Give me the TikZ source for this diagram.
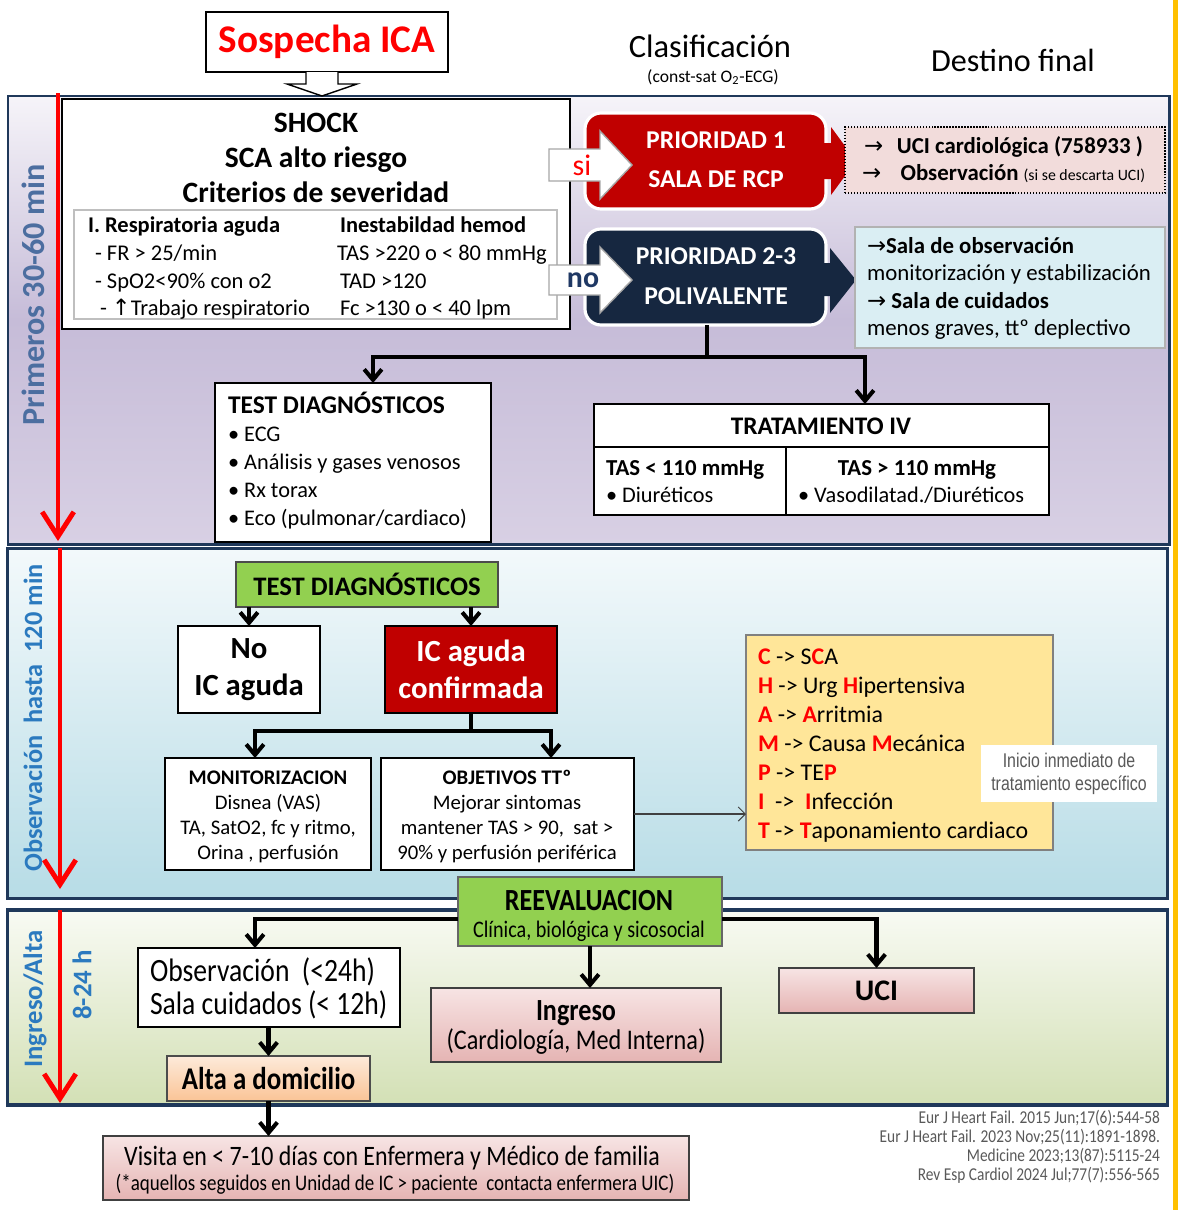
\documentclass[tikz,border=0pt]{standalone}
\usepackage{fontspec}
\setmainfont{Carlito}
\newfontfamily\condfont[FakeStretch=0.85]{Carlito}
\newfontfamily\narrowfont[FakeStretch=0.8]{Liberation Sans}
\newfontfamily\symfont{DejaVu Sans}
\usepackage{tikz}
\usetikzlibrary{arrows.meta, positioning, calc}
\definecolor{PanelBorder}{RGB}{31, 56, 90}
\definecolor{RcpRed}{RGB}{192, 0, 0}
\definecolor{PoliNavy}{RGB}{22, 39, 64}
\definecolor{NoNavy}{RGB}{31, 56, 100}
\definecolor{TimeRed}{RGB}{255, 0, 0}
\definecolor{LabelSlate}{RGB}{76, 110, 160}
\definecolor{LabelBlue}{RGB}{43, 122, 191}
\definecolor{TestGreen}{RGB}{146, 208, 80}
\definecolor{ChampYellow}{RGB}{255, 230, 153}
\definecolor{DestPink}{RGB}{242, 220, 219}
\definecolor{DestBlue}{RGB}{218, 238, 243}
\definecolor{RefGray}{RGB}{89, 89, 89}
\definecolor{BarOrange}{RGB}{255, 192, 0}
\definecolor{LilaTop}{RGB}{246, 244, 249}
\definecolor{LilaMid}{RGB}{198, 188, 216}
\definecolor{LilaBottom}{RGB}{216, 208, 228}
\definecolor{CyanTop}{RGB}{243, 249, 251}
\definecolor{CyanBottom}{RGB}{183, 220, 230}
\definecolor{OliveTop}{RGB}{248, 250, 243}
\definecolor{OliveBottom}{RGB}{211, 224, 181}
\definecolor{PinkTop}{RGB}{247, 228, 228}
\definecolor{PinkBottom}{RGB}{229, 180, 179}
\definecolor{PeachTop}{RGB}{253, 234, 218}
\definecolor{PeachBottom}{RGB}{250, 196, 150}
\newcommand{\redletter}[1]{\textbf{\textcolor{TimeRed}{#1}}}
\newcommand{\flecha}{{\symfont →}}

\tikzset{
    wd/.style={minimum width=#1*0.02cm},
    ht/.style={minimum height=#1*0.02cm},
    f/.style={font=\fontsize{#1}{#1}\selectfont},
    fb/.style={font=\bfseries\fontsize{#1}{#1}\selectfont},
    fc/.style={font=\condfont\fontsize{#1}{#1}\selectfont},
    fcb/.style={font=\condfont\bfseries\fontsize{#1}{#1}\selectfont},
    phase/.style={rotate=90, font=\bfseries\fontsize{#1}{#1}\selectfont}
}

\begin{document}
\begin{tikzpicture}[
        x=0.02cm, y=-0.02cm,
        every node/.style={inner sep=0pt, outer sep=0pt},
        panel/.style={draw=PanelBorder, line width=1.7pt},
        box/.style={draw=black, line width=0.8pt, fill=white},
        pinkbox/.style={draw=black!75, line width=0.8pt, top color=PinkTop, bottom color=PinkBottom},
        prio/.style={rounded corners=0.32cm, draw=white, line width=1.8pt},
        conn/.style={draw=black, line width=2.3pt, -{Straight Barb[length=6pt,width=10pt]}},
        thinconn/.style={draw=black!75, line width=0.6pt, -{Straight Barb[length=4pt,width=8pt]}},
        timeline/.style={draw=TimeRed, line width=2.8pt, -{Straight Barb[length=14pt,width=18pt]}},
        txt/.style={anchor=base west},
        ctxt/.style={anchor=base}
    ]

    \fill[white] (0,0) rectangle (1178,1210);
    \useasboundingbox (0,0) rectangle (1178,1210);
    \fill[BarOrange] (1173,0) rectangle (1178,1210);

    \node[panel, wd=1161, ht=448, top color=LilaTop, bottom color=LilaBottom, middle color=LilaMid] (fase1) at (588.5,320) {};
    \node[panel, wd=1160, ht=350, top color=CyanTop, bottom color=CyanBottom] (fase2) at (587.5,723) {};
    \node[panel, line width=2.2pt, wd=1160, ht=195, top color=OliveTop, bottom color=OliveBottom] (fase3) at (587.5,1007.5) {};

    \node[phase=18.3, text=LabelSlate] (lblfase1) at (33,295) {Primeros 30-60 min};
    \node[phase=15, text=LabelBlue] (lblfase2) at (33,718) {Observación\ \ hasta\ \ 120 min};
    \node[phase=15.2, text=LabelBlue] (lblfase3) at (35,999) {Ingreso/Alta};
    \node[phase=15.3, text=LabelBlue] (lblhoras) at (82,985) {8-24 h};

    \draw[timeline] (58,93) -- (58,541);
    \draw[timeline] (60,548) -- (60,889);
    \draw[timeline] (60,910) -- (60,1103);

    \node[box, wd=242, ht=60, text=TimeRed, fb=22.3] (sospecha) at (327,42) {Sospecha ICA};
    \draw[fill=white, line width=0.8pt] (306,72) -- (306,84) -- (287,84) -- (322,96) -- (357,84) -- (338,84) -- (338,72);

    \node[f=18.5] (clasif) at (710,46) {Clasificación};
    \node[f=10] (clasifsub) at (713,77) {(const-sat O\textsubscript{2}-ECG)};
    \node[f=18.3] (destino) at (1013,60) {Destino final};

    \node[box, wd=508, ht=230] (shock) at (316,214) {};
    \foreach \txt [count=\i] in {SHOCK, SCA alto riesgo, Criterios de severidad}
        \node[ctxt, fb=16.8] (shock\i) at (316,97+35*\i) {\txt};
    \node[draw=black!25, line width=0.8pt, wd=483, ht=109] (criterios) at (315.5,264.5) {};
    \node[txt, fb=12.8] (resp0) at (88,232) {I. Respiratoria aguda};
    \node[txt, f=12.8] (resp1) at (95,260) {- FR > 25/min};
    \node[txt, f=12.8] (resp2) at (95,288) {- SpO2<90\% con o2};
    \node[txt, f=12.8] (resp3) at (100,315) {- {\symfont ↑}Trabajo respiratorio};
    \node[txt, fb=12.8] (hemo0) at (340,232) {Inestabildad hemod};
    \node[txt, f=12.8] (hemo1) at (337,260) {TAS >220 o < 80 mmHg};
    \node[txt, f=12.8] (hemo2) at (340,288) {TAD >120};
    \node[txt, f=12.8] (hemo3) at (340,315) {Fc >130 o < 40 lpm};

    \node[prio, fill=RcpRed, wd=241, ht=96] (prio1) at (705.5,161) {};
    \node[ctxt, fb=14.6, text=white] (prio1a) at (716,148) {PRIORIDAD 1};
    \node[ctxt, fb=14.6, text=white] (prio1b) at (716,187) {SALA DE RCP};
    \node[prio, fill=PoliNavy, wd=241, ht=96] (prio2) at (705.5,277) {};
    \node[ctxt, fb=14.6, text=white] (prio2a) at (716,264) {PRIORIDAD 2-3};
    \node[ctxt, fb=14.6, text=white] (prio2b) at (716,304) {POLIVALENTE};

    \draw[fill=white, draw=black!35, line width=0.8pt] (549,149) -- (600,149) -- (600,131) -- (632,165) -- (600,199) -- (600,181) -- (549,181) -- cycle;
    \node[text=TimeRed, f=17] (si) at (582,165) {si};
    \draw[fill=white, draw=black!35, line width=0.8pt] (549,265) -- (600,265) -- (600,247) -- (632,280) -- (600,313) -- (600,295) -- (549,295) -- cycle;
    \node[text=NoNavy, fb=17] (no) at (583,280) {no};

    \fill[RcpRed] (822,143) -- (831,143) -- (831,127) -- (856,161) -- (831,195) -- (831,179) -- (822,179) -- cycle;
    \fill[PoliNavy] (808,263) -- (830,263) -- (830,248) -- (856,280) -- (830,313) -- (830,296) -- (808,296) -- cycle;

    \node[draw=black, densely dotted, line width=0.7pt, fill=DestPink, wd=320, ht=66] (ucicard) at (1005,160) {};
    \node[txt, f=13] (ucicard1) at (864,153) {\flecha\hspace{0.6em}\textbf{UCI cardiológica (758933 )}};
    \node[txt, f=13] (ucicard2) at (862,180) {\flecha\hspace{0.85em}\textbf{Observación} {\fontsize{9}{9}\selectfont (si se descarta UCI)}};

    \node[draw=black!30, line width=0.8pt, fill=DestBlue, wd=310, ht=121] (salas) at (1010,287.5) {};
    \node[txt, f=13] (salas1) at (867,253) {\flecha\textbf{Sala de observación}};
    \node[txt, f=13] (salas2) at (867,280) {monitorización y estabilización};
    \node[txt, f=13] (salas3) at (867,308) {\flecha\ \textbf{Sala de cuidados}};
    \node[txt, f=13] (salas4) at (867,335) {menos graves, ttº deplectivo};

    \node[box, wd=276, ht=159] (testa) at (353,462.5) {};
    \node[txt, fb=14.5] (testa0) at (228,413) {TEST DIAGNÓSTICOS};
    \foreach \txt [count=\i] in {ECG, Análisis y gases venosos, Rx torax, Eco (pulmonar/cardiaco)}
        \node[txt, f=12.7] (testa\i) at (228,413+28*\i) {• \txt};

    \node[box, wd=455, ht=111] (trat) at (821.5,459.5) {};
    \draw[line width=0.8pt] ($(trat.north west)+(0,43)$) -- ($(trat.north east)+(0,43)$);
    \draw[line width=0.8pt] ($(trat.north west)+(192,43)$) -- ($(trat.south west)+(192,0)$);
    \node[ctxt, fb=14.4] (trat0) at (821,434) {TRATAMIENTO IV};
    \node[txt, fb=13] (trat1) at (606,475) {TAS < 110 mmHg};
    \node[txt, f=12.7] (trat2) at (606,502) {• Diuréticos};
    \node[ctxt, fb=13] (trat3) at (917,475) {TAS > 110 mmHg};
    \node[txt, f=12.7] (trat4) at (798,502) {• Vasodilatad./Diuréticos};

    \coordinate (split1) at (707,357);
    \draw[line width=2.3pt] (split1 |- prio2.south) -- (split1);
    \draw[conn] (split1) -| ([xshift=0.4cm]testa.north);
    \draw[conn] (split1) -| ([xshift=0.87cm]trat.north);

    \node[draw=black!70, line width=0.8pt, fill=TestGreen, wd=262, ht=45, fb=15.2] (testb) at (367,584.5) {TEST DIAGNÓSTICOS};
    \node[box, wd=142, ht=87, align=center, font=\bfseries\fontsize{17.5}{21}\selectfont] (noic) at (249,669.5) {No\\IC aguda};
    \node[box, fill=RcpRed, text=white, wd=172, ht=87, align=center, font=\bfseries\fontsize{17.5}{21}\selectfont] (icconf) at (471,669.5) {IC aguda\\confirmada};
    \draw[conn] (noic.north |- testb.south) -- (noic.north);
    \draw[conn] (icconf.north |- testb.south) -- (icconf.north);

    \node[box, wd=206, ht=112] (monit) at (268,814) {};
    \node[ctxt, fb=11.8] (monit0) at (268,784) {MONITORIZACION};
    \foreach \txt [count=\i] in {Disnea (VAS), {TA, SatO2, fc y ritmo,}, {Orina , perfusión}}
        \node[ctxt, f=11.8] (monit\i) at (268,784+25*\i) {\txt};
    \node[box, wd=253, ht=112] (objet) at (507.5,814) {};
    \node[ctxt, fb=11.8] (objet0) at (507,784) {OBJETIVOS TTº};
    \foreach \txt [count=\i] in {Mejorar sintomas, {mantener TAS > 90,\ \ sat >}, 90\% y perfusión periférica}
        \node[ctxt, f=11.8] (objet\i) at (507,784+25*\i) {\txt};

    \coordinate (split2) at (471,731);
    \draw[line width=2.3pt] (icconf.south) -- (split2);
    \draw[conn] (split2) -| ([xshift=-0.26cm]monit.north);
    \draw[conn] (split2) -| ([xshift=0.87cm]objet.north);

    \node[draw=black!50, line width=1.3pt, fill=ChampYellow, wd=307, ht=215] (champ) at (899.5,742.5) {};
    \foreach \txt [count=\i] in {
        {\redletter{C} -> S\redletter{C}A},
        {\redletter{H} -> Urg \redletter{H}ipertensiva},
        {\redletter{A} -> \redletter{A}rritmia},
        {\redletter{M} -> Causa \redletter{M}ecánica},
        {\redletter{P} -> TE\redletter{P}},
        {\redletter{I}\ \ ->\ \ \redletter{I}nfección},
        {\redletter{T} -> \redletter{T}aponamiento cardiaco}}
        \node[txt, f=13.6] (champ\i) at (758,635+29*\i) {\txt};
    \draw[thinconn] (objet.east) -- (objet.east -| champ.west);

    \node[fill=white, wd=176, ht=57, align=center, text=RefGray, font=\narrowfont\fontsize{11.3}{13}\selectfont] (inicio) at (1069,773.5) {Inicio inmediato de\\tratamiento específico};

    \node[draw=black!60, line width=0.8pt, fill=TestGreen, wd=264, ht=69] (reev) at (590,911.5) {};
    \node[ctxt, fcb=17.5] (reev1) at (589,910) {REEVALUACION};
    \node[ctxt, fc=13.5] (reev2) at (589,937) {Clínica, biológica y sicosocial};

    \node[box, wd=262, ht=79] (obs) at (269,987.5) {};
    \node[txt, fc=18.5] (obs1) at (150,981) {Observación\ \ (<24h)};
    \node[txt, fc=18.5] (obs2) at (150,1014) {Sala cuidados (< 12h)};
    \node[draw=black!70, line width=0.8pt, top color=PeachTop, bottom color=PeachBottom, wd=203, ht=45, fcb=18] (alta) at (268.5,1078.5) {Alta a domicilio};
    \node[pinkbox, wd=290, ht=74] (ing) at (576,1025) {};
    \node[ctxt, fcb=17.5] (ing1) at (576,1020) {Ingreso};
    \node[ctxt, fc=16.2] (ing2) at (576,1049) {(Cardiología, Med Interna)};
    \node[pinkbox, wd=195, ht=45, fb=17] (uci) at (876.5,990.5) {UCI};
    \node[pinkbox, wd=586, ht=64] (visita) at (396,1168) {};
    \node[ctxt, fc=16] (visita1) at (392,1165) {Visita en < 7-10 días con Enfermera y Médico de familia};
    \node[ctxt, fc=12.7] (visita2) at (395,1190) {(*aquellos seguidos en Unidad de IC > paciente\ \ contacta enfermera UIC)};

    \draw[conn] ([yshift=-0.15cm]reev.west) -| ([xshift=-0.28cm]obs.north);
    \draw[conn] ([yshift=-0.15cm]reev.east) -| (uci.north);
    \draw[conn] (reev.south) -- (reev.south |- ing.north);
    \draw[conn] (alta.north |- obs.south) -- (alta.north);
    \draw[conn] (alta.south) -- (alta.south |- visita.north);

    \foreach \txt [count=\i] in {{Eur J Heart Fail. 2015 Jun;17(6):544-58}, {Eur J Heart Fail. 2023 Nov;25(11):1891-1898.}, {Medicine 2023;13(87):5115-24}, {Rev Esp Cardiol 2024 Jul;77(7):556-565}}
        \node[anchor=base east, text=RefGray, fc=10.3] (ref\i) at (1160,1104+19*\i) {\txt};

\end{tikzpicture}
\end{document}
